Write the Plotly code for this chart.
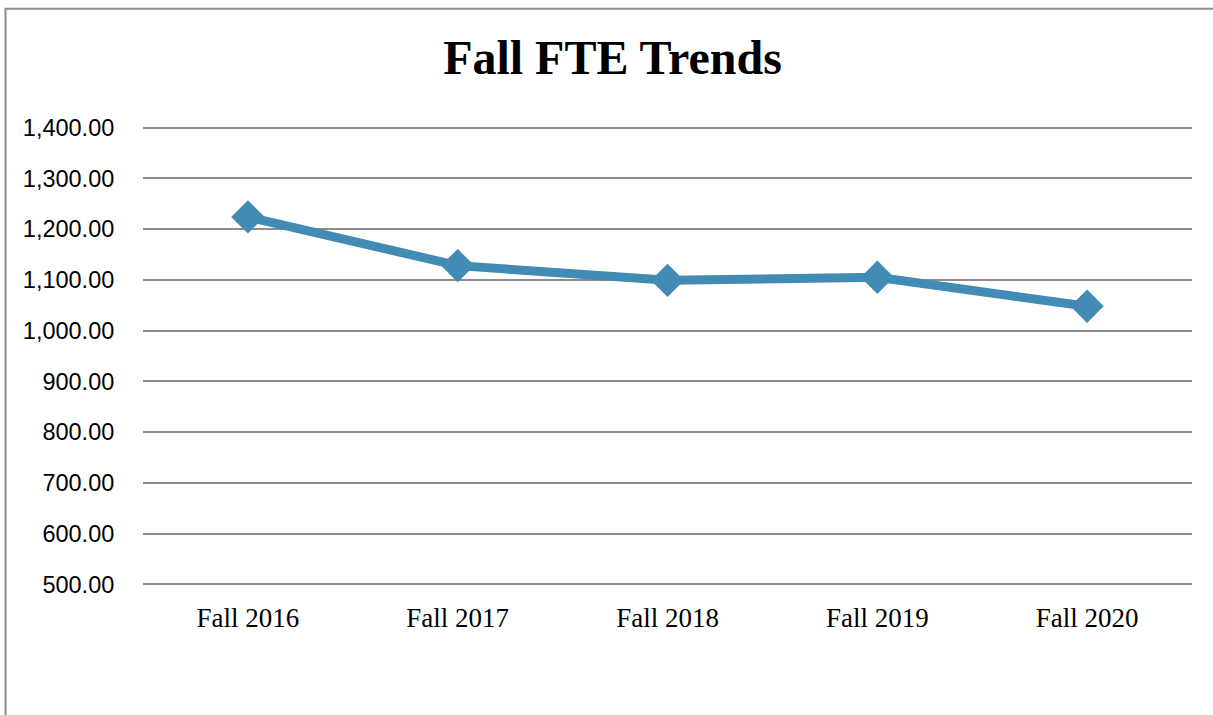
import plotly.graph_objects as go

categories = ["Fall 2016", "Fall 2017", "Fall 2018", "Fall 2019", "Fall 2020"]
fte_values = [1224, 1128, 1099, 1105, 1048]
y_ticks = [500, 600, 700, 800, 900, 1000, 1100, 1200, 1300, 1400]
y_tick_labels = ["{:,.2f}".format(v) for v in y_ticks]

W, H = 1213, 715
ML, MR, MT, MB = 143, 21, 126, 128.5
pw = W - ML - MR
ph = H - MT - MB

def px_x(p):
    return (p - ML) / pw

def px_y(p):
    return (H - MB - p) / ph

line_color = "#428bb5"

fig = go.Figure()
fig.add_trace(go.Scatter(
    x=categories, y=fte_values, mode="lines+markers",
    line=dict(color=line_color, width=9),
    marker=dict(symbol="diamond", size=23, color=line_color,
                line=dict(color=line_color, width=2.5)),
    showlegend=False, hoverinfo="x+y",
))

fig.update_layout(
    width=W, height=H,
    margin=dict(l=ML, r=MR, t=MT, b=MB),
    paper_bgcolor="white", plot_bgcolor="white",
    title=dict(text="<b>Fall FTE Trends</b>", x=612.5 / W, xref="container",
               xanchor="center",
               y=1 - 57 / H, yref="container", yanchor="middle",
               font=dict(family="Liberation Serif", size=48, color="black")),
    xaxis=dict(type="category", range=[-0.5, len(categories) - 0.5],
               showgrid=False, zeroline=False, showline=False,
               ticks="outside", ticklen=8, tickcolor="rgba(0,0,0,0)",
               tickfont=dict(family="Liberation Serif", size=27, color="black")),
    yaxis=dict(range=[497, 1403], tickvals=y_ticks, ticktext=y_tick_labels,
               showgrid=True, gridcolor="#8c8c8c", gridwidth=1.5,
               zeroline=False, showline=False,
               ticks="outside", ticklen=23, tickcolor="rgba(0,0,0,0)",
               tickfont=dict(family="Liberation Sans", size=23.5, color="black")),
    shapes=[dict(type="path", xref="paper", yref="paper",
                 path="M {} {} L {} {} L {} {}".format(px_x(5.5), px_y(730), px_x(5.5), px_y(8.5), px_x(1230), px_y(8.5)),
                 line=dict(color="#8c8c8c", width=2))],
)

fig.write_html("out.html", config={"displayModeBar": False},
               post_script="document.body.style.margin='0';document.body.style.padding='0';")
